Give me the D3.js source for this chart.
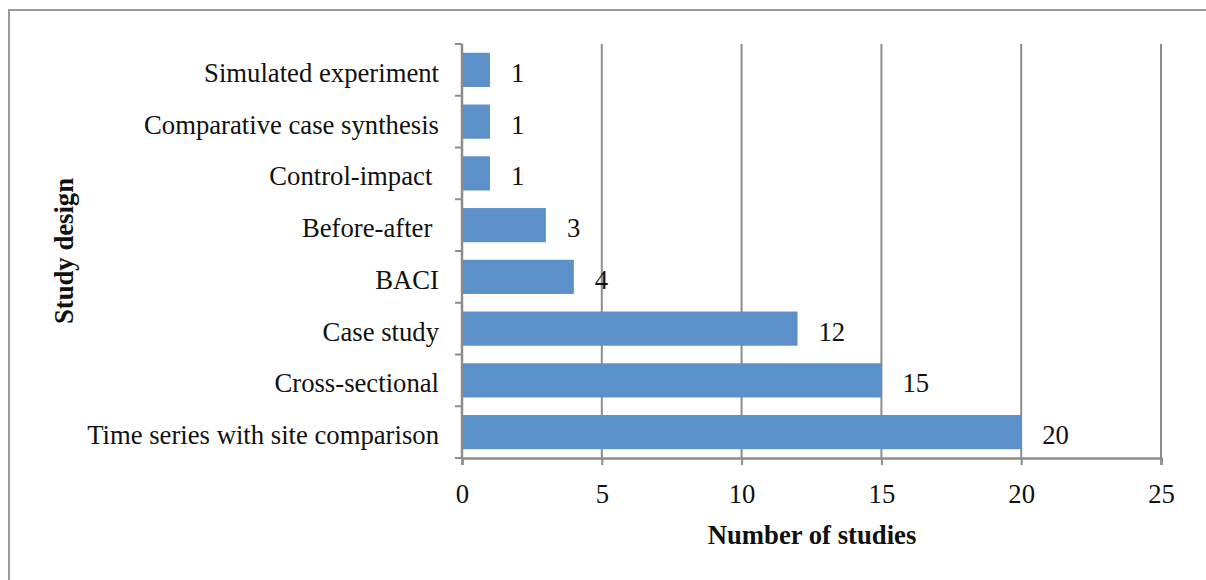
<!DOCTYPE html>
<html>
<head>
<meta charset="utf-8">
<script src="https://cdn.jsdelivr.net/npm/d3@7/dist/d3.min.js"></script>
<style>
  html, body { margin: 0; padding: 0; background: #fff; }
  svg { display: block; }
  text { font-family: "Liberation Serif", "Times New Roman", serif; fill: #111; }
</style>
</head>
<body>
<svg id="chart" width="1206" height="580"></svg>
<script>
// Study designs, listed top to bottom
const categories = [
  "Simulated experiment",
  "Comparative case synthesis",
  "Control-impact ",
  "Before-after ",
  "BACI",
  "Case study",
  "Cross-sectional",
  "Time series with site comparison"
];
const studyCounts = [1, 1, 1, 3, 4, 12, 15, 20];
const xTicks = [0, 5, 10, 15, 20, 25];

const svg = d3.select("#chart");
const W = 1206, H = 580;
const margin = { left: 462, right: 1206 - 1161, top: 44, bottom: 580 - 458 };
const fs = 26.7;

// Outer frame
svg.append("rect")
  .attr("x", 9).attr("y", 10)
  .attr("width", W + 20).attr("height", H + 20)
  .attr("fill", "none").attr("stroke", "#999").attr("stroke-width", 2);

const x = d3.scaleLinear().domain([0, 25]).range([margin.left, W - margin.right]);
const y = d3.scaleBand().domain(categories).range([margin.top, H - margin.bottom]).paddingInner(0.34).paddingOuter(0.17);

const gridColor = "#8c8c8c";

// Vertical gridlines
svg.append("g").selectAll("line")
  .data(xTicks.filter(t => t > 0))
  .join("line")
  .attr("x1", d => x(d)).attr("x2", d => x(d))
  .attr("y1", margin.top).attr("y2", H - margin.bottom)
  .attr("stroke", gridColor).attr("stroke-width", 2);

// Bars
svg.append("g").selectAll("rect")
  .data(categories)
  .join("rect")
  .attr("x", x(0))
  .attr("y", d => y(d))
  .attr("width", (d, i) => x(studyCounts[i]) - x(0))
  .attr("height", y.bandwidth())
  .attr("fill", "#5b90c8");

// Value labels
svg.append("g").selectAll("text")
  .data(categories)
  .join("text")
  .attr("x", (d, i) => x(studyCounts[i]) + 21)
  .attr("y", d => y(d) + y.bandwidth() / 2)
  .attr("dy", "0.45em")
  .attr("font-size", fs)
  .text((d, i) => studyCounts[i]);

// X axis
const xAxis = svg.append("g")
  .attr("transform", `translate(0,${H - margin.bottom})`)
  .call(d3.axisBottom(x).tickValues(xTicks).tickSize(7).tickPadding(19));
xAxis.select(".domain").attr("stroke", gridColor).attr("stroke-width", 2.5);
xAxis.selectAll(".tick line").attr("stroke", gridColor).attr("stroke-width", 2);
xAxis.selectAll(".tick text")
  .attr("font-size", fs).attr("font-family", "Liberation Serif, serif").attr("fill", "#111");

// Y axis: ticks sit on band boundaries
const yAxisG = svg.append("g").attr("transform", `translate(${margin.left},0)`);
const step = (H - margin.bottom - margin.top) / categories.length;
const boundaries = d3.range(categories.length + 1).map(i => margin.top + i * step);
yAxisG.append("line")
  .attr("x1", 0).attr("x2", 0)
  .attr("y1", margin.top).attr("y2", H - margin.bottom)
  .attr("stroke", gridColor).attr("stroke-width", 2.5);
yAxisG.selectAll("line.tk")
  .data(boundaries)
  .join("line").attr("class", "tk")
  .attr("x1", -7).attr("x2", 0)
  .attr("y1", d => d).attr("y2", d => d)
  .attr("stroke", gridColor).attr("stroke-width", 2);
yAxisG.selectAll("text")
  .data(categories)
  .join("text")
  .attr("x", -23)
  .attr("y", d => y(d) + y.bandwidth() / 2)
  .attr("dy", "0.45em")
  .attr("text-anchor", "end")
  .attr("font-size", fs)
  .attr("xml:space", "preserve")
  .style("white-space", "pre")
  .text(d => d);

// Axis titles
svg.append("text")
  .attr("x", 812).attr("y", 535)
  .attr("dy", "0.35em")
  .attr("text-anchor", "middle")
  .attr("font-size", fs).attr("font-weight", "bold")
  .text("Number of studies");

svg.append("text")
  .attr("transform", "translate(64,251) rotate(-90)")
  .attr("dy", "0.35em")
  .attr("text-anchor", "middle")
  .attr("font-size", fs).attr("font-weight", "bold")
  .text("Study design");
</script>
</body>
</html>
